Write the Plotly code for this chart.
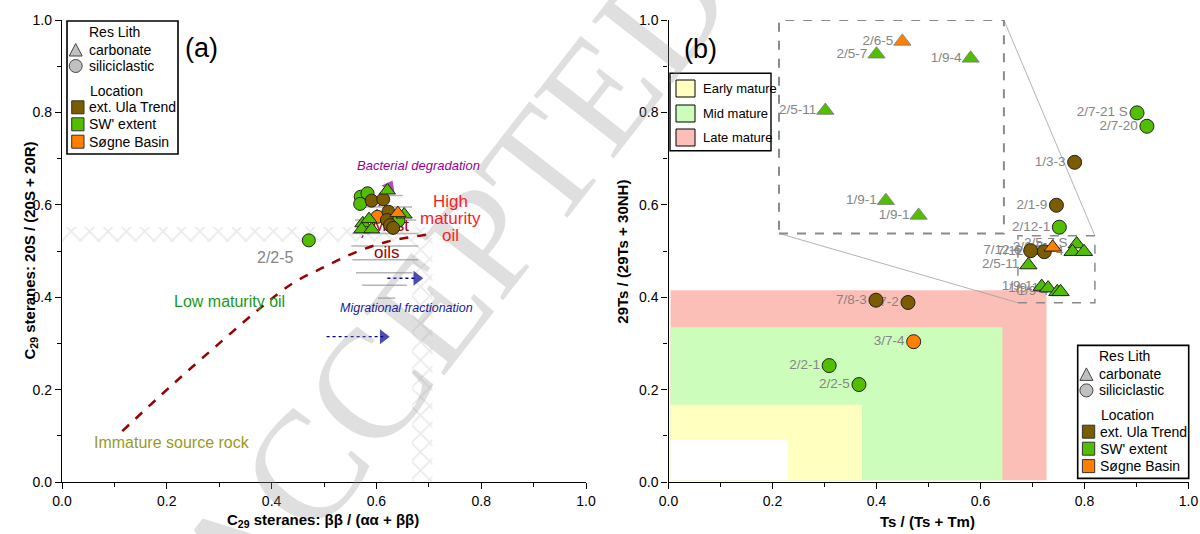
import plotly.graph_objects as go

W, H = 1200, 534

# ---------------- panel (a): C29 sterane isomerisation ----------------
A_GREEN_CIRC_X = [0.570, 0.583, 0.569, 0.642, 0.471]
A_GREEN_CIRC_Y = [0.6175, 0.625, 0.602, 0.566, 0.523]
A_ORANGE_CIRC_X = [0.602]
A_ORANGE_CIRC_Y = [0.574]
A_BROWN_CIRC_X = [0.591, 0.613, 0.623, 0.620, 0.626, 0.632]
A_BROWN_CIRC_Y = [0.609, 0.612, 0.585, 0.567, 0.556, 0.550]
A_GREEN_TRI_X = [0.621, 0.653, 0.574, 0.586, 0.572, 0.591]
A_GREEN_TRI_Y = [0.631, 0.579, 0.560, 0.569, 0.547, 0.547]
A_ORANGE_TRI_X = [0.641]
A_ORANGE_TRI_Y = [0.582]

# maturation pathway
TREND_X = [0.115, 0.21, 0.30, 0.38, 0.44, 0.50, 0.56, 0.62, 0.695]
TREND_Y = [0.110, 0.21, 0.30, 0.378, 0.430, 0.465, 0.497, 0.520, 0.535]

# equilibrium bands (L-shaped outline)
HATCH_X = [0.0, 0.707, 0.707, 0.668, 0.668, 0.0, 0.0]
HATCH_Y = [0.552, 0.552, 0.0, 0.0, 0.52, 0.52, 0.552]

# "most oils" field, drawn as horizontal hatch lines
MOST_Y = [0.620, 0.595, 0.567, 0.538, 0.511, 0.481, 0.453, 0.426, 0.398]
MOST_X0 = [0.606, 0.577, 0.559, 0.553, 0.552, 0.554, 0.561, 0.573, 0.603]
MOST_X1 = [0.650, 0.668, 0.676, 0.680, 0.680, 0.680, 0.669, 0.658, 0.636]

MIGR1_X = [0.621, 0.677]
MIGR1_Y = [0.441, 0.441]
MIGR2_X = [0.505, 0.613]
MIGR2_Y = [0.3145, 0.3145]
BACT_X = [0.572, 0.625]
BACT_Y = [0.528, 0.640]

# ---------------- panel (b): Ts/(Ts+Tm) vs 29Ts/(29Ts+30NH) ----------------
B_GREEN_CIRC_LBL = ["2/7-21 S", "2/7-20", "2/12-1", "2/2-1", "2/2-5"]
B_GREEN_CIRC_X = [0.901, 0.920, 0.7516, 0.309, 0.3663]
B_GREEN_CIRC_Y = [0.799, 0.770, 0.5515, 0.252, 0.2109]
B_ORANGE_CIRC_LBL = ["3/7-4"]
B_ORANGE_CIRC_X = [0.4715]
B_ORANGE_CIRC_Y = [0.3037]
B_BROWN_CIRC_LBL = ["1/3-3", "2/1-9", "7/12-6", "7/12-2", "7/8-3", "7/7-2"]
B_BROWN_CIRC_X = [0.781, 0.746, 0.6965, 0.7227, 0.399, 0.4606]
B_BROWN_CIRC_Y = [0.692, 0.599, 0.5007, 0.4985, 0.3935, 0.3885]
B_GREEN_TRI_LBL = ["2/5-7 S", "1/9-4", None, "2/5-11", "1/9-1", "1/9-1", "1/9-4", None]
B_GREEN_TRI_X = [0.785, 0.777, 0.799, 0.692, 0.7177, 0.730, 0.7477, 0.754]
B_GREEN_TRI_Y = [0.515, 0.4985, 0.4985, 0.4696, 0.423, 0.4196, 0.4116, 0.4116]
B_ORANGE_TRI_LBL = ["2/6-5"]
B_ORANGE_TRI_X = [0.7388]
B_ORANGE_TRI_Y = [0.508]

# enlarged view of the crowded cluster
INSET_GREEN_LBL = ["2/5-7", "1/9-4", "2/5-11", "1/9-1", "1/9-1"]
INSET_GREEN_X = [0.400, 0.581, 0.3016, 0.418, 0.481]
INSET_GREEN_Y = [0.926, 0.917, 0.804, 0.609, 0.577]
INSET_ORANGE_LBL = ["2/6-5"]
INSET_ORANGE_X = [0.4497]
INSET_ORANGE_Y = [0.9537]
INSET_BOX = [0.2125, 0.538, 0.645, 1.0]
ZOOM_BOX = [0.672, 0.388, 0.820, 0.533]

# maturity fields (upper-right corner of each field; drawn largest first)
ZONE_NAMES = ["Late mature", "Mid mature", "Early mature", "immature"]
ZONE_X1 = [0.727, 0.642, 0.372, 0.229]
ZONE_Y1 = [0.415, 0.335, 0.1674, 0.0913]
ZONE_COLORS = ["#fcbfb7", "#cdfdba", "#ffffc0", "#ffffff"]

BROWN = "#7b5c00"
GREEN = "#52be00"
ORANGE = "#ff8000"
LBL_GREY = "#858585"
FONT = "Liberation Sans"


def px(x):
    return x / W


def py(y):
    return 1 - y / H


fig = go.Figure()
shapes = []
annots = []

# ----- panel (a) traces -----
fig.add_trace(go.Scatter(
    x=HATCH_X, y=HATCH_Y, xaxis="x", yaxis="y", mode="lines", fill="toself",
    line=dict(width=0), fillcolor="white",
    fillpattern=dict(shape="x", fgcolor="#d6d6d6", bgcolor="white", size=13, solidity=0.25),
    hoverinfo="skip", showlegend=False))

mx, my = [], []
for y, x0, x1 in zip(MOST_Y, MOST_X0, MOST_X1):
    mx += [x0, x1, None]
    my += [y, y, None]
fig.add_trace(go.Scatter(x=mx, y=my, xaxis="x", yaxis="y", mode="lines",
                         line=dict(color="#b4b4b4", width=1.5), showlegend=False))

fig.add_trace(go.Scatter(x=TREND_X, y=TREND_Y, xaxis="x", yaxis="y", mode="lines",
                         line=dict(color="#990000", width=2.5, dash="dash", shape="spline"),
                         showlegend=False))

for ax, ay, col in [(MIGR1_X, MIGR1_Y, "#000090"), (MIGR2_X, MIGR2_Y, "#000090"),
                    (BACT_X, BACT_Y, "#990099")]:
    fig.add_trace(go.Scatter(
        x=ax, y=ay, xaxis="x", yaxis="y", mode="lines+markers",
        line=dict(color=col, width=1.3, dash="dot"),
        marker=dict(symbol="triangle-up", size=[0, 13], angleref="previous", color=col,
                    line=dict(width=0)),
        showlegend=False))

fig.add_trace(go.Scatter(x=[0.627, 0.62], y=[0.552, 0.493], xaxis="x", yaxis="y", mode="text",
                         text=["Most", "oils"], textfont=dict(family=FONT, size=17, color="#990000"),
                         showlegend=False))


def markers(xs, ys, sym, col, size, xa, ya, lw=1, lc="#222222"):
    fig.add_trace(go.Scatter(x=xs, y=ys, xaxis=xa, yaxis=ya, mode="markers",
                             marker=dict(symbol=sym, size=size, color=col,
                                         line=dict(color=lc, width=lw)),
                             showlegend=False, cliponaxis=False))


markers(A_GREEN_CIRC_X, A_GREEN_CIRC_Y, "circle", GREEN, 13, "x", "y")
markers(A_ORANGE_CIRC_X, A_ORANGE_CIRC_Y, "circle", ORANGE, 13, "x", "y")
markers(A_BROWN_CIRC_X, A_BROWN_CIRC_Y, "circle", BROWN, 13, "x", "y")
markers(A_GREEN_TRI_X, A_GREEN_TRI_Y, "triangle-up", GREEN, 14, "x", "y")
markers(A_ORANGE_TRI_X, A_ORANGE_TRI_Y, "triangle-up", ORANGE, 14, "x", "y")

# ----- panel (b) -----
for name, x1, y1, col in zip(ZONE_NAMES, ZONE_X1, ZONE_Y1, ZONE_COLORS):
    shapes.append(dict(type="rect", xref="x2", yref="y2", x0=0.004, y0=0.004, x1=x1, y1=y1,
                       fillcolor=col, line=dict(width=0), layer="below"))

bx0, by0, bx1, by1 = INSET_BOX
zx0, zy0, zx1, zy1 = ZOOM_BOX
shapes.append(dict(type="line", xref="x2", yref="y2", x0=bx1, y0=by1, x1=zx1, y1=zy1,
                   line=dict(color="#a0a0a0", width=0.8), layer="below"))
shapes.append(dict(type="line", xref="x2", yref="y2", x0=bx0, y0=by0, x1=zx0, y1=zy0,
                   line=dict(color="#a0a0a0", width=0.8), layer="below"))
shapes.append(dict(type="rect", xref="x2", yref="y2", x0=bx0, y0=by0, x1=bx1, y1=by1,
                   line=dict(color="#8a8a8a", width=2, dash="dash"), layer="below"))
shapes.append(dict(type="rect", xref="x2", yref="y2", x0=zx0, y0=zy0, x1=zx1, y1=zy1,
                   line=dict(color="#8a8a8a", width=1.5, dash="dash"), layer="below"))

# sample labels first, so that symbols sit on top of crowded text
lx = B_GREEN_CIRC_X + B_ORANGE_CIRC_X + B_BROWN_CIRC_X + B_GREEN_TRI_X + B_ORANGE_TRI_X \
    + INSET_GREEN_X + INSET_ORANGE_X
ly = B_GREEN_CIRC_Y + B_ORANGE_CIRC_Y + B_BROWN_CIRC_Y + B_GREEN_TRI_Y + B_ORANGE_TRI_Y \
    + INSET_GREEN_Y + INSET_ORANGE_Y
lt = B_GREEN_CIRC_LBL + B_ORANGE_CIRC_LBL + B_BROWN_CIRC_LBL + B_GREEN_TRI_LBL + B_ORANGE_TRI_LBL \
    + INSET_GREEN_LBL + INSET_ORANGE_LBL
keep = [i for i, t in enumerate(lt) if t]
fig.add_trace(go.Scatter(x=[lx[i] for i in keep], y=[ly[i] for i in keep], xaxis="x2", yaxis="y2",
                         mode="markers+text", text=[lt[i] for i in keep],
                         textposition="middle left",
                         textfont=dict(family=FONT, size=13.5, color=LBL_GREY),
                         marker=dict(size=13, color="rgba(0,0,0,0)"), showlegend=False))

markers(B_GREEN_CIRC_X, B_GREEN_CIRC_Y, "circle", GREEN, 14, "x2", "y2")
markers(B_ORANGE_CIRC_X, B_ORANGE_CIRC_Y, "circle", ORANGE, 14, "x2", "y2")
markers(B_BROWN_CIRC_X, B_BROWN_CIRC_Y, "circle", BROWN, 14, "x2", "y2")
markers(B_GREEN_TRI_X, B_GREEN_TRI_Y, "triangle-up", GREEN, 15, "x2", "y2")
markers(B_ORANGE_TRI_X, B_ORANGE_TRI_Y, "triangle-up", ORANGE, 15, "x2", "y2")
markers(INSET_GREEN_X, INSET_GREEN_Y, "triangle-up", GREEN, 15, "x2", "y2", lw=0.8, lc="#777777")
markers(INSET_ORANGE_X, INSET_ORANGE_Y, "triangle-up", ORANGE, 15, "x2", "y2", lw=0.8, lc="#777777")

# ----- watermark -----
annots.append(dict(text="ACCEPTED MANUSCRIPT", xref="paper", yref="paper",
                   x=px(770), y=py(-126), xanchor="center", yanchor="middle", textangle=-52,
                   showarrow=False, font=dict(family="Liberation Serif", size=155,
                                              color="rgba(150,150,150,0.3)")))


def text(x, y, s, size=14, color="black", anchor="left", xref="paper", yref="paper"):
    annots.append(dict(text=s, x=x, y=y, xref=xref, yref=yref, xanchor=anchor,
                       yanchor="middle", showarrow=False,
                       font=dict(family=FONT, size=size, color=color)))


# ----- panel (a) annotations -----
text(0.21, 0.085, "Immature source rock", 16, "#9a9a1e", "center", "x", "y")
text(0.319, 0.39, "Low maturity oil", 16, "#1a991a", "center", "x", "y")
text(0.681, 0.686, "<i>Bacterial degradation</i>", 13, "#990099", "center", "x", "y")
text(0.658, 0.377, "<i>Migrational fractionation</i>", 12.5, "#1a1a99", "center", "x", "y")
for s, yy in [("High", 0.608), ("maturity", 0.571), ("oil", 0.534)]:
    text(0.742, yy, s, 17, "#ff1a1a", "center", "x", "y")
annots.append(dict(text="2/2-5", x=A_GREEN_CIRC_X[4], y=A_GREEN_CIRC_Y[4], xref="x", yref="y",
                   xshift=-33, yshift=-17, showarrow=False,
                   font=dict(family=FONT, size=16, color=LBL_GREY)))
text(px(201), py(48), "(a)", 27, "black", "center")
text(px(700.5), py(49), "(b)", 27, "black", "center")


def key(x0, y0):
    shapes.append(dict(type="rect", xref="paper", yref="paper", x0=px(x0), x1=px(x0 + 111),
                       y0=py(y0), y1=py(y0 + 133), line=dict(color="black", width=1.6),
                       fillcolor="white", layer="above"))
    text(px(x0 + 19.7), py(y0 + 10.7), "Res Lith")
    cx, cy = x0 + 8.7, y0 + 29
    shapes.append(dict(type="path", xref="paper", yref="paper",
                       path=f"M {px(cx-6.5)} {py(cy+6)} L {px(cx+6.5)} {py(cy+6)} L {px(cx)} {py(cy-6.5)} Z",
                       fillcolor="#c0c0c0", line=dict(color="#444444", width=1), layer="above"))
    cy = y0 + 45
    shapes.append(dict(type="circle", xref="paper", yref="paper", x0=px(cx - 6.5), x1=px(cx + 6.5),
                       y0=py(cy + 6.5), y1=py(cy - 6.5), fillcolor="#c0c0c0",
                       line=dict(color="#444444", width=1), layer="above"))
    text(px(x0 + 19.7), py(y0 + 29), "carbonate")
    text(px(x0 + 19.7), py(y0 + 45), "siliciclastic")
    text(px(x0 + 21), py(y0 + 69.7), "Location")
    for name, col, dy in [("ext. Ula Trend", BROWN, 86.3), ("SW' extent", GREEN, 103.3),
                          ("Søgne Basin", ORANGE, 120.7)]:
        shapes.append(dict(type="rect", xref="paper", yref="paper", x0=px(x0 + 4.7), x1=px(x0 + 17),
                           y0=py(y0 + dy + 6.5), y1=py(y0 + dy - 6.5), fillcolor=col,
                           line=dict(color="#333333", width=1), layer="above"))
        text(px(x0 + 20.3), py(y0 + dy), name)


key(67, 21)
key(1077.7, 345.4)

# maturity key in panel (b)
shapes.append(dict(type="rect", xref="paper", yref="paper", x0=px(670), x1=px(771),
                   y0=py(73.3), y1=py(150.7), line=dict(color="black", width=1.4),
                   fillcolor="white", layer="above"))
for name, col, yc in [("Early mature", ZONE_COLORS[2], 88.5), ("Mid mature", ZONE_COLORS[1], 113.5),
                      ("Late mature", ZONE_COLORS[0], 137.5)]:
    shapes.append(dict(type="rect", xref="paper", yref="paper", x0=px(676), x1=px(695),
                       y0=py(yc + 8.5), y1=py(yc - 8.5), fillcolor=col,
                       line=dict(color="black", width=1), layer="above"))
    text(px(700.6), py(yc), name, 13)

# axis titles
text(px(323), py(520), "<b>C<sub>29</sub> steranes: ββ / (αα + ββ)</b>", 15, "black", "center")
text(px(927.6), py(521), "<b>Ts / (Ts + Tm)</b>", 15, "black", "center")
annots.append(dict(text="<b>C<sub>29</sub> steranes: 20S / (20S + 20R)</b>", x=px(19), y=py(251),
                   xref="paper", yref="paper", textangle=-90, showarrow=False,
                   font=dict(family=FONT, size=15, color="black")))
annots.append(dict(text="<b>29Ts / (29Ts + 30NH)</b>", x=px(623), y=py(251.7),
                   xref="paper", yref="paper", textangle=-90, showarrow=False,
                   font=dict(family=FONT, size=15, color="black")))

axis_common = dict(range=[0, 1], dtick=0.2, tickformat=".1f", ticks="outside", ticklen=6,
                   tickwidth=1, tickcolor="black", showline=True, linecolor="black", linewidth=1.3,
                   showgrid=False, zeroline=False, fixedrange=True, automargin=False,
                   tickfont=dict(family=FONT, size=14, color="black"),
                   minor=dict(dtick=0.1, ticks="outside", ticklen=4, tickcolor="black", showgrid=False))

y_dom = [py(482), py(20)]
fig.update_layout(
    width=W, height=H, autosize=False,
    margin=dict(l=0, r=0, t=0, b=0, pad=0, autoexpand=False),
    paper_bgcolor="white", plot_bgcolor="white", showlegend=False,
    font=dict(family=FONT),
    xaxis=dict(domain=[px(62), px(586)], anchor="y", **axis_common),
    yaxis=dict(domain=y_dom, anchor="x", **axis_common),
    xaxis2=dict(domain=[px(668.5), px(1188.5)], anchor="y2", **axis_common),
    yaxis2=dict(domain=y_dom, anchor="x2", **axis_common),
    shapes=shapes, annotations=annots,
)

fig.write_html("out.html")
